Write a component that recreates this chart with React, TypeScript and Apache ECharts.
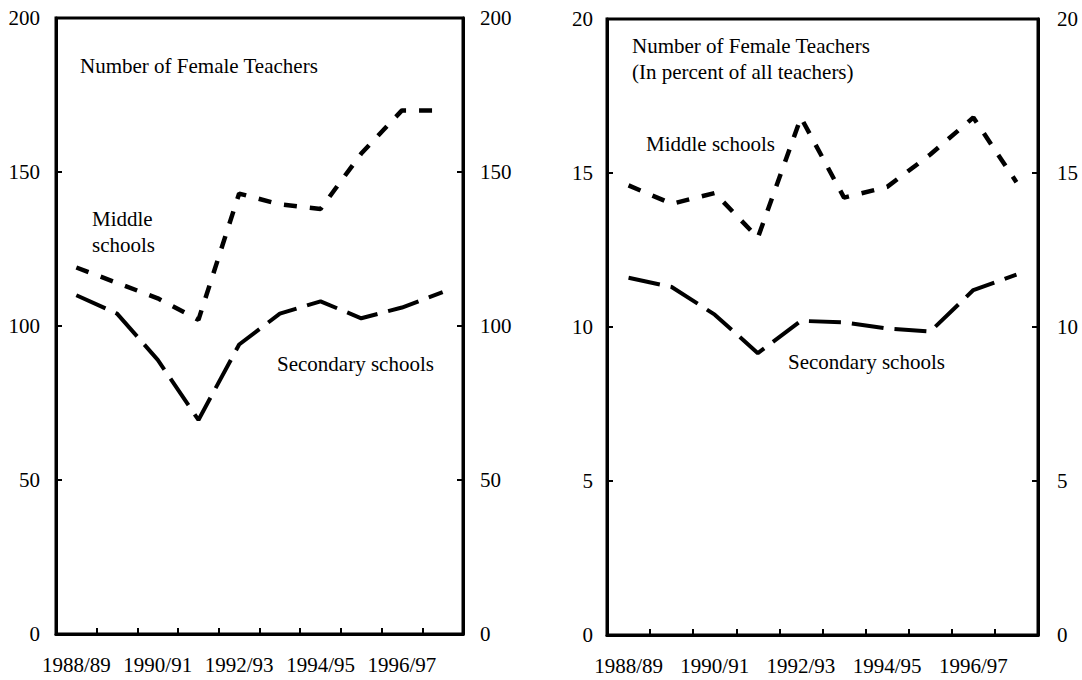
import React, { useEffect, useRef } from "react";
import * as echarts from "echarts";

const years = ["1988/89", "1989/90", "1990/91", "1991/92", "1992/93", "1993/94", "1994/95", "1995/96", "1996/97", "1997/98"];
const middleCount = [119, 114, 109, 102, 143, 139.5, 138, 156, 170, 170];
const secondaryCount = [110, 104, 89, 69.5, 94, 104, 108, 102.5, 106, 111];
const middlePct = [14.6, 14.0, 14.35, 12.9, 16.8, 14.2, 14.55, 15.6, 16.8, 14.7];
const secondaryPct = [11.6, 11.3, 10.4, 9.15, 10.2, 10.15, 9.95, 9.85, 11.2, 11.7];
const countAxis = { min: 0, max: 200, interval: 50 };
const pctAxis = { min: 0, max: 20, interval: 5 };
const leftTitle = "Number of Female Teachers";
const rightTitle = ["Number of Female Teachers", "(In percent of all teachers)"];

const FONT = "'Liberation Serif', 'Times New Roman', serif";
const FS = 21;

export default function App() {
  const ref = useRef<HTMLDivElement>(null);
  useEffect(() => {
    if (!ref.current) return;
    const chart = echarts.init(ref.current, undefined, { renderer: "svg" });
    const grids = [
      { left: 56, top: 18, width: 407, height: 616 },
      { left: 607, top: 19, width: 431, height: 616 },
    ];
    const xAxis = grids.map((_, i) => ({
      type: "category",
      gridIndex: i,
      data: years,
      boundaryGap: true,
      position: "bottom",
      axisLine: { show: true, lineStyle: { color: "#000", width: 3 } },
      axisTick: { show: true, inside: true, length: 6, interval: 0, alignWithLabel: false, lineStyle: { color: "#000", width: 2 } },
      axisLabel: { interval: 1, color: "#000", fontFamily: FONT, fontSize: FS, margin: 20 },
      splitLine: { show: false },
    }));
    const yAxis: any[] = [];
    const margins = [
      [16, 17],
      [14, 19],
    ];
    [countAxis, pctAxis].forEach((ax, i) => {
      ["left", "right"].forEach((pos, j) => {
        yAxis.push({
          type: "value",
          gridIndex: i,
          position: pos,
          min: ax.min,
          max: ax.max,
          interval: ax.interval,
          axisLine: { show: true, lineStyle: { color: "#000", width: 3 } },
          axisTick: { show: true, inside: true, length: 6, lineStyle: { color: "#000", width: 2 } },
          axisLabel: { color: "#000", fontFamily: FONT, fontSize: FS, margin: margins[i][j] },
          splitLine: { show: false },
        });
      });
    });
    const shortDash = { color: "#000", width: 4.5, type: [13, 13], cap: "butt" };
    const longDash = { color: "#000", width: 4, type: [32, 11], cap: "butt" };
    const series: any[] = [
      { type: "line", xAxisIndex: 0, yAxisIndex: 0, data: middleCount, symbol: "none", lineStyle: shortDash },
      { type: "line", xAxisIndex: 0, yAxisIndex: 0, data: secondaryCount, symbol: "none", lineStyle: longDash },
      { type: "line", xAxisIndex: 1, yAxisIndex: 2, data: middlePct, symbol: "none", lineStyle: shortDash },
      { type: "line", xAxisIndex: 1, yAxisIndex: 2, data: secondaryPct, symbol: "none", lineStyle: longDash },
    ];
    const txt = (x: number, y: number, text: string) => ({
      type: "text",
      x,
      y,
      style: { text, fill: "#000", font: `${FS}px ${FONT}`, textAlign: "left", textVerticalAlign: "middle" },
    });
    chart.setOption({
      animation: false,
      backgroundColor: "#fff",
      grid: grids.map((g) => ({ ...g, show: true, borderColor: "#000", borderWidth: 3, backgroundColor: "transparent" })),
      xAxis,
      yAxis,
      series,
      graphic: [
        txt(80, 66, leftTitle),
        txt(92, 219, "Middle"),
        txt(92, 245, "schools"),
        txt(277, 364, "Secondary schools"),
        txt(632, 46, rightTitle[0]),
        txt(632, 72, rightTitle[1]),
        txt(646, 144, "Middle schools"),
        txt(788, 362, "Secondary schools"),
      ],
    });
    return () => chart.dispose();
  }, []);
  return <div ref={ref} style={{ position: "absolute", left: 0, top: 0, width: 1082, height: 680 }} />;
}
